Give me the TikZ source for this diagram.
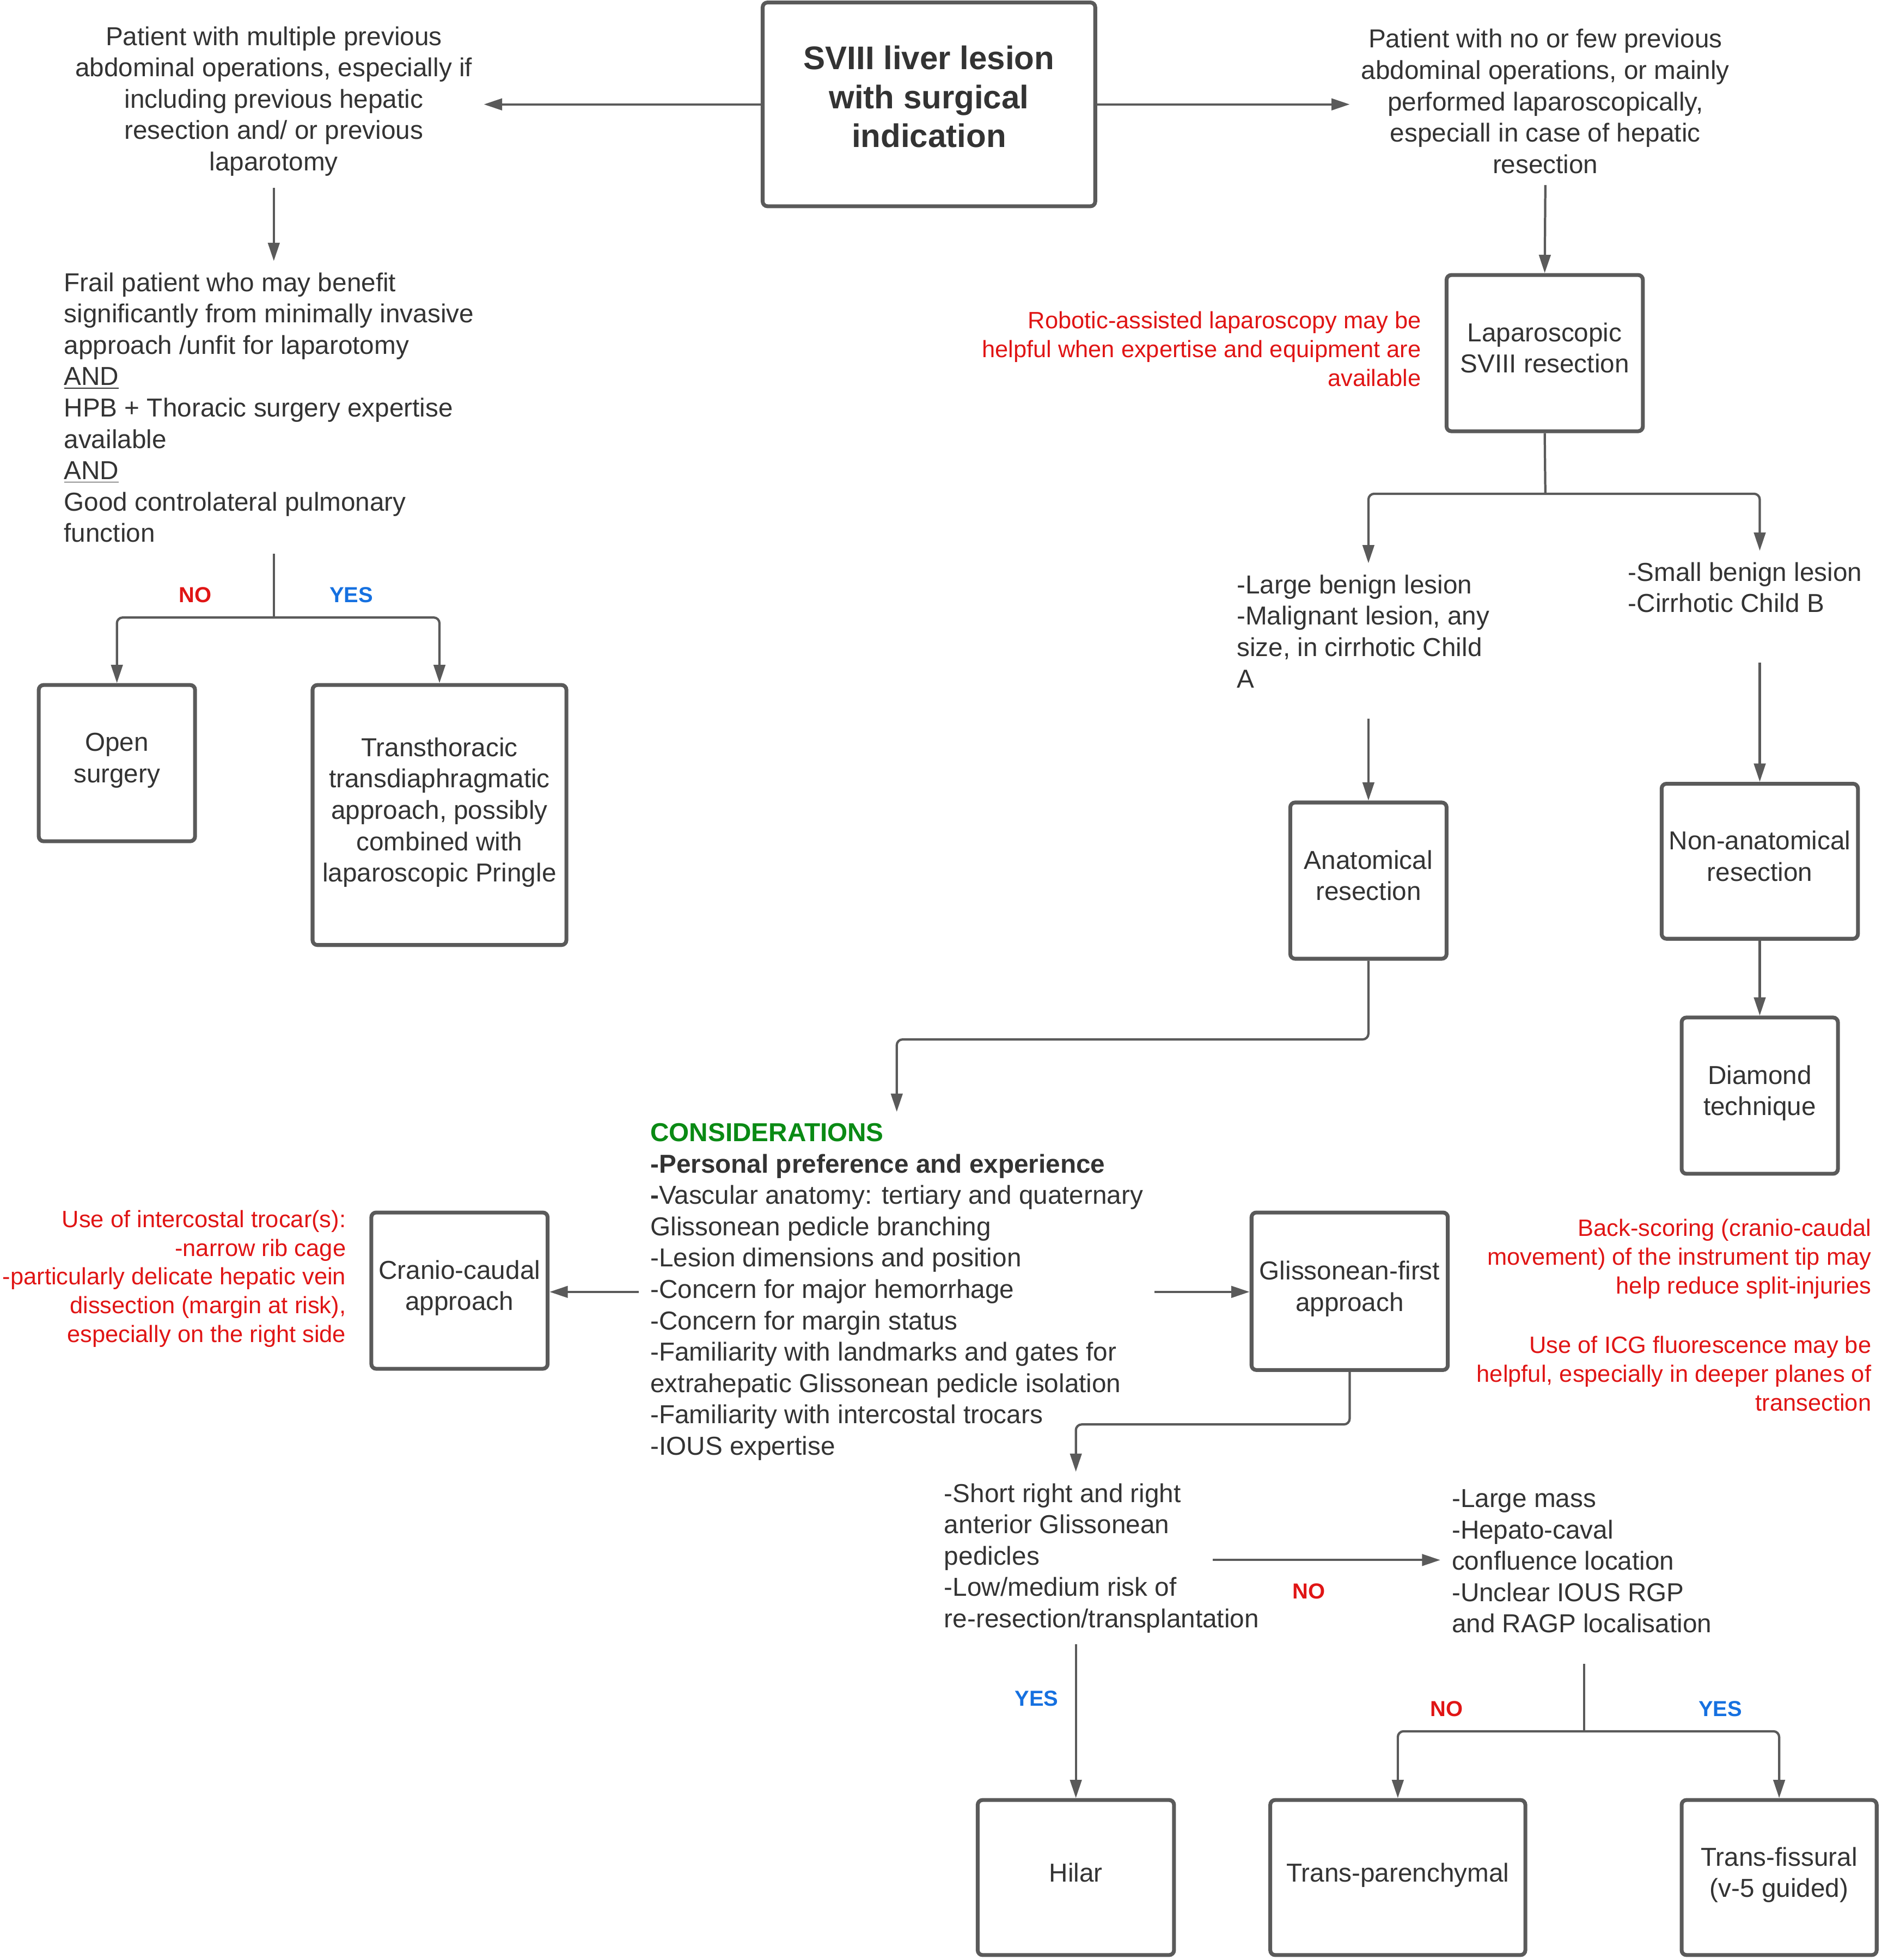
\documentclass[tikz,border=0pt]{standalone}
\usepackage{fontspec}
\setmainfont{Liberation Sans}
\usetikzlibrary{arrows.meta}
\definecolor{linegray}{HTML}{5A5A5A}
\definecolor{textgray}{HTML}{333333}
\definecolor{notered}{HTML}{E01515}
\definecolor{yesblue}{HTML}{1570E0}
\definecolor{consgreen}{HTML}{0A8A14}
\newcommand\fbody{\fontsize{13.5}{16.3}\selectfont}
\newcommand\fnote{\fontsize{12.3}{15}\selectfont}
\newcommand\ftag{\fontsize{11.3}{13}\selectfont\bfseries}
\newcommand\ftitle{\fontsize{17}{20.2}\selectfont\bfseries}
\begin{document}
\begin{tikzpicture}[x=0.65pt,y=-0.65pt,
  box/.style 2 args={draw=linegray,line width=2pt,rounded corners=2.5pt,align=center,inner sep=2pt,text=textgray,font=\fbody,text depth=5.5pt,minimum width=#1*0.65pt,minimum height=#2*0.65pt},
  txt/.style={text=textgray,font=\fbody,inner sep=0pt,outer sep=6pt},
  note/.style={text=notered,font=\fnote,inner sep=0pt,align=right},
  conn/.style={draw=linegray,line width=1.2pt,rounded corners=3pt,-{Triangle[length=9.5pt,width=6pt]}},
  branch/.style={draw=linegray,line width=1.2pt},
  yestag/.style={text=yesblue,font=\ftag},
  notag/.style={text=notered,font=\ftag}]
\useasboundingbox (0,0) rectangle (1505,1568);
\node[box={266}{163},font=\ftitle,text depth=8pt] (title) at (743,83.5) {SVIII liver lesion\\with surgical\\indication};
\node[txt,align=center] (prevmany) at (219,81) {Patient with multiple previous\\abdominal operations, especially if\\including previous hepatic\\resection and/ or previous\\laparotomy};
\node[txt,align=center] (prevfew) at (1236,81) {Patient with no or few previous\\abdominal operations, or mainly\\performed laparoscopically,\\especiall in case of hepatic\\resection};
\node[txt,align=left,anchor=west] (frail) at (42,326) {Frail patient who may benefit\\significantly from minimally invasive\\approach /unfit for laparotomy\\\underline{AND}\\HPB + Thoracic surgery expertise\\available\\\underline{AND}\\Good controlateral pulmonary\\function};
\node[box={125}{125}] (open) at (93.5,610.5) {Open\\surgery};
\node[box={203}{208}] (thorax) at (351.5,652) {Transthoracic\\transdiaphragmatic\\approach, possibly\\combined with\\laparoscopic Pringle};
\node[box={157}{125}] (lap) at (1235.5,282.5) {Laparoscopic\\SVIII resection};
\node[note,anchor=east] (robot) at (1137,279) {Robotic-assisted laparoscopy may be\\helpful when expertise and equipment are\\available};
\node[txt,align=left,anchor=west] (large) at (980,505) {-Large benign lesion\\-Malignant lesion, any\\size, in cirrhotic Child\\A};
\node[txt,align=left,anchor=west] (small) at (1293,470) {-Small benign lesion\\-Cirrhotic Child B};
\node[box={125}{125}] (anat) at (1094.5,704.5) {Anatomical\\resection};
\node[box={157}{124}] (nonanat) at (1407.5,689) {Non-anatomical\\resection};
\node[box={125}{125}] (diamond) at (1407.5,876.5) {Diamond\\technique};
\node[txt,align=left,anchor=west] (cons) at (511,1033.5) {\textcolor{consgreen}{\textbf{CONSIDERATIONS}}\\\textbf{-Personal preference and experience}\\\textbf{-}Vascular anatomy: tertiary and quaternary\\Glissonean pedicle branching\\-Lesion dimensions and position\\-Concern for major hemorrhage\\-Concern for margin status\\-Familiarity with landmarks and gates for\\extrahepatic Glissonean pedicle isolation\\-Familiarity with intercostal trocars\\-IOUS expertise};
\node[box={141}{125}] (cranio) at (367.5,1032.5) {Cranio-caudal\\approach};
\node[note,anchor=east] (trocar) at (277,1023) {Use of intercostal trocar(s):\\-narrow rib cage\\-particularly delicate hepatic vein\\dissection (margin at risk),\\especially on the right side};
\node[box={157}{126}] (gliss) at (1079.5,1033) {Glissonean-first\\approach};
\node[note,anchor=east] (backscore) at (1497,1007) {Back-scoring (cranio-caudal\\movement) of the instrument tip may\\help reduce split-injuries};
\node[note,anchor=east] (icg) at (1497,1099) {Use of ICG fluorescence may be\\helpful, especially in deeper planes of\\transection};
\node[txt,align=left,anchor=west] (shortped) at (746,1246.5) {-Short right and right\\anterior Glissonean\\pedicles\\-Low/medium risk of\\re-resection/transplantation};
\node[txt,align=left,anchor=west] (mass) at (1152,1249) {-Large mass\\-Hepato-caval\\confluence location\\-Unclear IOUS RGP\\and RAGP localisation};
\node[box={157}{124}] (hilar) at (860.5,1502) {Hilar};
\node[box={204}{124}] (trpar) at (1118,1502) {Trans-parenchymal};
\node[box={156}{124}] (trfis) at (1423,1502) {Trans-fissural\\(v-5 guided)};
\node[notag] (nothorax) at (156,476) {NO};
\node[yestag] (yesthorax) at (281,476) {YES};
\node[notag] (nomass) at (1047,1273) {NO};
\node[yestag] (yeshilar) at (829,1359) {YES};
\node[notag] (notrpar) at (1157,1367) {NO};
\node[yestag] (yestrfis) at (1376,1367) {YES};
\draw[conn] (title.west) -- (title.west -| prevmany.east);
\draw[conn] (title.east) -- (title.east -| prevfew.west);
\draw[conn] (prevmany.south) -- (frail.north -| prevmany.south);
\coordinate (split1) at (219,494);
\draw[branch] (frail.south -| split1) -- (split1);
\draw[conn] (split1) -| (open.north);
\draw[conn] (split1) -| (thorax.north);
\draw[conn] (prevfew.south) -- (lap.north);
\coordinate (split2) at (1236,395);
\draw[branch] (lap.south) -- (split2);
\draw[conn] (split2) -| (large.north -| anat.north);
\draw[conn] (split2) -| (small.north -| nonanat.north);
\draw[conn,shorten <=10pt] (large.south -| anat.north) -- (anat.north);
\draw[conn,shorten <=20pt] (small.south -| nonanat.north) -- (nonanat.north);
\draw[conn] (nonanat) -- (diamond);
\draw[conn] (anat.south) -- ++(0,63) -| (cons.north);
\draw[conn] (cons.west) -- (cons.west -| cranio.east);
\draw[conn] (cons.east) -- (cons.east -| gliss.west);
\draw[conn] (gliss.south) -- ++(0,42) -| (shortped.north -| hilar.north);
\coordinate (nofrom) at (970,1248);
\draw[conn] (nofrom) -- (mass.west |- nofrom);
\draw[conn] (shortped.south -| hilar.north) -- (hilar.north);
\coordinate (split3) at (1267,1385);
\draw[branch,shorten <=10pt] (mass.south -| split3) -- (split3);
\draw[conn] (split3) -| (trpar.north);
\draw[conn] (split3) -| (trfis.north);
\end{tikzpicture}
\end{document}
